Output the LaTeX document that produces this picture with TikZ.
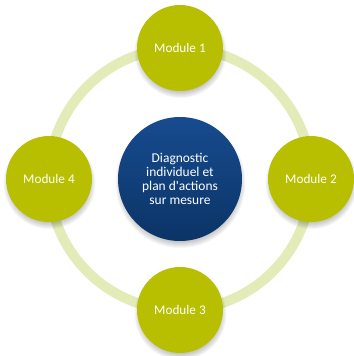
\documentclass[tikz,border=0pt]{standalone}
\usepackage{fontspec}
\newfontfamily\carl{Carlito}
\definecolor{modgreen}{HTML}{B7BF00}
\definecolor{ringgreen}{HTML}{E3EBB8}
\definecolor{bluetop}{HTML}{174B8F}
\definecolor{bluebot}{HTML}{0B3466}
\usetikzlibrary{calc}
\tikzset{
  module/.style={circle, minimum size=86bp, inner sep=0pt, fill=modgreen, text=white,
    font=\carl\fontsize{13.3}{14.3}\selectfont},
  hub/.style={circle, minimum size=124bp, inner sep=0pt, top color=bluetop, bottom color=bluebot,
    text=white, align=center, font=\carl\fontsize{13.5}{14.3}\selectfont},
}
\newcommand{\softshadow}[2]{%
  \foreach \k in {0,...,6}{%
    \fill[black, opacity=0.035] ($(#1)+(0.5bp,-4bp)$) circle[radius={#2+3bp-\k*1bp}];
  }%
}
\begin{document}
\begin{tikzpicture}[x=1bp,y=-1bp]
\useasboundingbox (0,0) rectangle (354,356);
\coordinate (c) at (180,179);
\draw[ringgreen, line width=10bp] (c) circle[radius=131bp];
\coordinate (p1) at (180,48);
\coordinate (p2) at (311,179);
\coordinate (p3) at (180,310);
\coordinate (p4) at (49,179);
\foreach \p in {p1,p2,p3,p4}{\softshadow{\p}{43bp}}
\softshadow{c}{62bp}
\node[module] (m1) at (p1) {Module 1};
\node[module] (m2) at (p2) {Module 2};
\node[module] (m3) at (p3) {Module 3};
\node[module] (m4) at (p4) {Module 4};
\node[hub] (h) at (c) {Diagnostic\\individuel et\\plan d'actions\\sur mesure};
\end{tikzpicture}
\end{document}
